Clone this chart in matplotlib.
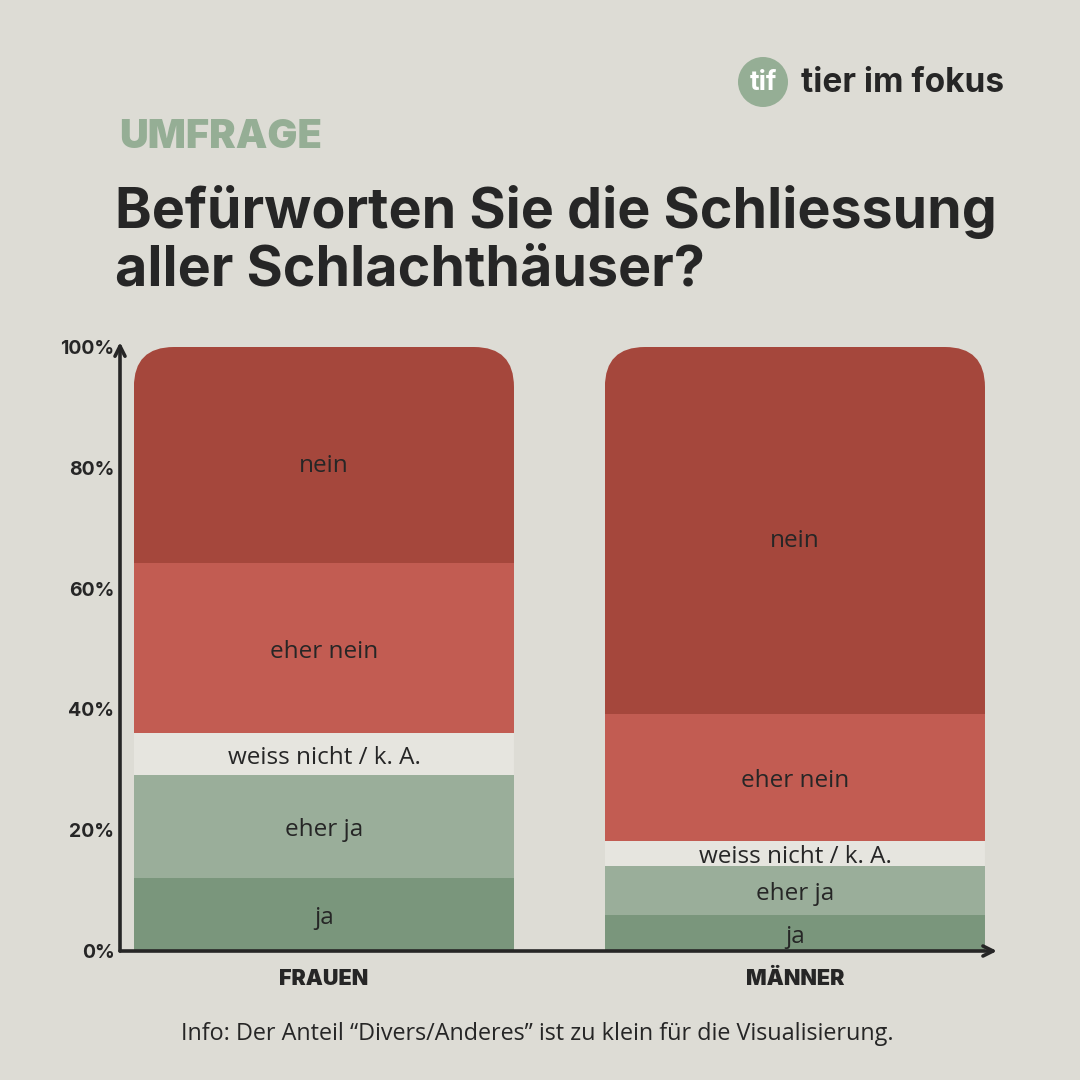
import matplotlib
matplotlib.use("Agg")
import matplotlib.pyplot as plt
from matplotlib.patches import FancyBboxPatch, Circle
from matplotlib.transforms import IdentityTransform

# ---- data ----
groups = ["FRAUEN", "MÄNNER"]
answers = ["ja", "eher ja", "weiss nicht / k. A.", "eher nein", "nein"]
frauen = [12.1, 17.0, 7.0, 28.1, 35.8]
maenner = [6.0, 8.1, 4.1, 21.0, 60.8]
yticks = [0, 20, 40, 60, 80, 100]
ytick_labels = ["0%", "20%", "40%", "60%", "80%", "100%"]
colors = ["#7A967C", "#9AAE9A", "#E6E5DF", "#C25C52", "#A5473C"]

BG = "#DDDCD5"
DARK = "#262626"
GREEN = "#95AE95"

fig = plt.figure(figsize=(10.8, 10.8), dpi=100)
fig.patch.set_facecolor(BG)

# axes placement (pixels -> fractions)
L, R, B, T = 120, 997, 951, 347
ax = fig.add_axes([L / 1080, 1 - B / 1080, (R - L) / 1080, (B - T) / 1080])
ax.set_facecolor("none")
ax.set_xlim(-0.433, 1.429)
ax.set_ylim(0, 100)
for s in ax.spines.values():
    s.set_visible(False)

width = 0.807
positions = [0, 1]
data = [frauen, maenner]

for pos, vals in zip(positions, data):
    # rounded clip path (top corners only) in display coords
    x0, y0 = ax.transData.transform((pos - width / 2, 0))
    x1, y1 = ax.transData.transform((pos + width / 2, sum(vals)))
    clip = FancyBboxPatch((x0, y0 - 200), x1 - x0, (y1 - y0) + 200,
                          boxstyle="round,pad=0,rounding_size=40",
                          transform=IdentityTransform(), facecolor="none",
                          edgecolor="none")
    bottom = 0
    for i, (v, c, lab) in enumerate(zip(vals, colors, answers)):
        bars = ax.bar(pos, v, width=width, bottom=bottom, color=c,
                      edgecolor="none", linewidth=0)
        for b in bars:
            b.set_clip_path(clip)
        yc = bottom + v / 2 - 0.6
        if i == len(vals) - 1:
            yc -= 1.2
        ax.text(pos, yc, lab, ha="center", va="center",
                fontsize=17.5, color=DARK, family="Open Sans")
        bottom += v

ax.set_xticks([])
ax.set_yticks(yticks)
ax.set_yticklabels(ytick_labels, fontsize=14, fontweight="bold",
                   color=DARK, family="Inter")
ax.tick_params(axis="y", length=0, pad=4)

# arrows as axes
ax.annotate("", xy=(0, 1.008), xytext=(0, 0), xycoords="axes fraction",
            arrowprops=dict(arrowstyle="->", lw=2.6, color=DARK,
                            shrinkA=0, shrinkB=0, mutation_scale=18))
ax.annotate("", xy=(1.0, 0), xytext=(0, 0), xycoords="axes fraction",
            arrowprops=dict(arrowstyle="->", lw=2.6, color=DARK,
                            shrinkA=0, shrinkB=0, mutation_scale=18))

for pos, g in zip(positions, groups):
    ax.text(pos, -4.6, g, ha="center", va="center", fontsize=15.5,
            fontweight="black", color=DARK, family="Inter")

# titles
fig.text(119 / 1080, 1 - 138 / 1080, "UMFRAGE", ha="left", va="center",
         fontsize=28.7, fontweight="black", color=GREEN, family="Inter")
fig.text(115 / 1080, 1 - 212 / 1080, "Befürworten Sie die Schliessung",
         ha="left", va="center", fontsize=40, fontweight="bold",
         color=DARK, family="Inter")
fig.text(115 / 1080, 1 - 270 / 1080, "aller Schlachthäuser?",
         ha="left", va="center", fontsize=40, fontweight="bold",
         color=DARK, family="Inter")

# logo
circ = Circle((763 / 1080, 1 - 82 / 1080), 25 / 1080, transform=fig.transFigure,
              facecolor=GREEN, edgecolor="none")
fig.patches.append(circ)
fig.text(763 / 1080, 1 - 83 / 1080, "tif", ha="center", va="center",
         fontsize=19, fontweight="bold", color="white", family="Inter")
fig.text(801 / 1080, 1 - 83 / 1080, "tier im fokus", ha="left", va="center",
         fontsize=24, fontweight="bold", color=DARK, family="Inter")

# footer
fig.text(537 / 1080, 1 - 1034 / 1080,
         "Info: Der Anteil \u201cDivers/Anderes\u201d ist zu klein für die Visualisierung.",
         ha="center", va="center", fontsize=16.8, color=DARK, family="Open Sans")

fig.savefig("out.png", dpi=100, facecolor=BG)
